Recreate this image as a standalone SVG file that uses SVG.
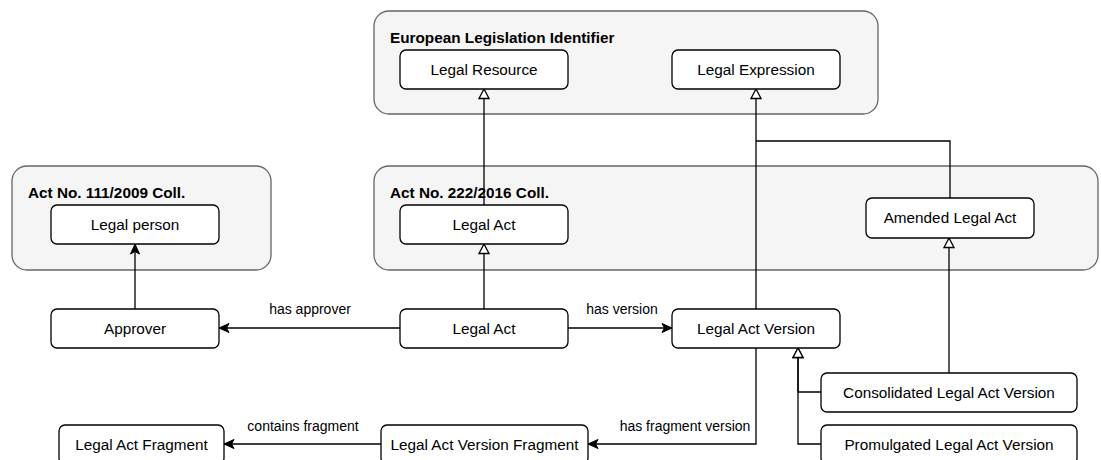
<svg xmlns="http://www.w3.org/2000/svg" width="1101" height="460" viewBox="0 0 1101 460">
<style>
.cont{fill:#f5f5f5;stroke:#666666;stroke-width:1.3}
.box{fill:#ffffff;stroke:#000000;stroke-width:1.3}
.t{font-family:"Liberation Sans",Arial,sans-serif;font-size:15.3px;fill:#000;text-anchor:middle}
.h{font-family:"Liberation Sans",Arial,sans-serif;font-size:15.3px;font-weight:bold;fill:#000}
.el{font-family:"Liberation Sans",Arial,sans-serif;font-size:14px;fill:#000;text-anchor:middle}
.c{fill:none;stroke:#000;stroke-width:1.3}
.gen{marker-end:url(#tri)}
.asc{marker-end:url(#arr)}
</style>
<defs>
<marker id="tri" markerUnits="userSpaceOnUse" viewBox="0 0 12 12" markerWidth="12" markerHeight="12" refX="10.5" refY="6" orient="auto">
<path d="M1,1 L10.5,6 L1,11 Z" fill="#fff" stroke="#000" stroke-width="1.3"/>
</marker>
<marker id="arr" markerUnits="userSpaceOnUse" viewBox="0 0 12 12" markerWidth="12" markerHeight="12" refX="11" refY="6" orient="auto">
<path d="M1,1.5 L11,6 L1,10.5 L3.5,6 Z" fill="#000" stroke="#000" stroke-width="1"/>
</marker>
</defs>

<g id="container-eli">
<rect class="cont" x="374" y="11" width="504" height="103" rx="15"/>
<text class="h" x="390" y="43">European Legislation Identifier</text>
</g>
<g id="container-act111">
<rect class="cont" x="12" y="166" width="259" height="104" rx="15"/>
<text class="h" x="28" y="198">Act No. 111/2009 Coll.</text>
</g>
<g id="container-act222">
<rect class="cont" x="374" y="166" width="724" height="104" rx="15"/>
<text class="h" x="390" y="198">Act No. 222/2016 Coll.</text>
</g>

<g id="connectors">
<path class="c asc" d="M135,309 V244"/>
<path class="c asc" d="M400,328 H219"/>
<text class="el" x="310" y="314">has approver</text>
<path class="c asc" d="M568,328 H672"/>
<text class="el" x="622" y="314">has version</text>
<path class="c gen" d="M484,309 V244"/>
<path class="c gen" d="M484,205 V89"/>
<path class="c gen" d="M756,309 V89"/>
<path class="c" d="M950,198 V141 H756"/>
<path class="c gen" d="M949,373 V238"/>
<path class="c gen" d="M821,392 H798 V348"/>
<path class="c gen" d="M821,444 H798 V348"/>
<path class="c asc" d="M756,348 V444 H588"/>
<text class="el" x="685" y="431">has fragment version</text>
<path class="c asc" d="M381,444 H224"/>
<text class="el" x="303" y="431">contains fragment</text>
</g>

<g id="legal-resource"><rect class="box" x="400" y="50" width="168" height="39" rx="6"/><text class="t" x="484" y="74.5">Legal Resource</text></g>
<g id="legal-expression"><rect class="box" x="672" y="50" width="168" height="39" rx="6"/><text class="t" x="756" y="74.5">Legal Expression</text></g>
<g id="legal-person"><rect class="box" x="51" y="205" width="168" height="39" rx="6"/><text class="t" x="135" y="229.5">Legal person</text></g>
<g id="legal-act-222"><rect class="box" x="400" y="205" width="168" height="39" rx="6"/><text class="t" x="484" y="229.5">Legal Act</text></g>
<g id="amended-legal-act"><rect class="box" x="866" y="198" width="168" height="40" rx="6"/><text class="t" x="950" y="223">Amended Legal Act</text></g>
<g id="approver"><rect class="box" x="51" y="309" width="168" height="39" rx="6"/><text class="t" x="135" y="333.5">Approver</text></g>
<g id="legal-act"><rect class="box" x="400" y="309" width="168" height="39" rx="6"/><text class="t" x="484" y="333.5">Legal Act</text></g>
<g id="legal-act-version"><rect class="box" x="672" y="309" width="168" height="39" rx="6"/><text class="t" x="756" y="333.5">Legal Act Version</text></g>
<g id="consolidated-legal-act-version"><rect class="box" x="821" y="373" width="256" height="39" rx="6"/><text class="t" x="949" y="397.5">Consolidated Legal Act Version</text></g>
<g id="promulgated-legal-act-version"><rect class="box" x="821" y="425" width="256" height="39" rx="6"/><text class="t" x="949" y="449.5">Promulgated Legal Act Version</text></g>
<g id="legal-act-fragment"><rect class="box" x="59" y="425" width="165" height="39" rx="6"/><text class="t" x="141.5" y="449.5">Legal Act Fragment</text></g>
<g id="legal-act-version-fragment"><rect class="box" x="381" y="425" width="207" height="39" rx="6"/><text class="t" x="484.5" y="449.5">Legal Act Version Fragment</text></g>
</svg>
